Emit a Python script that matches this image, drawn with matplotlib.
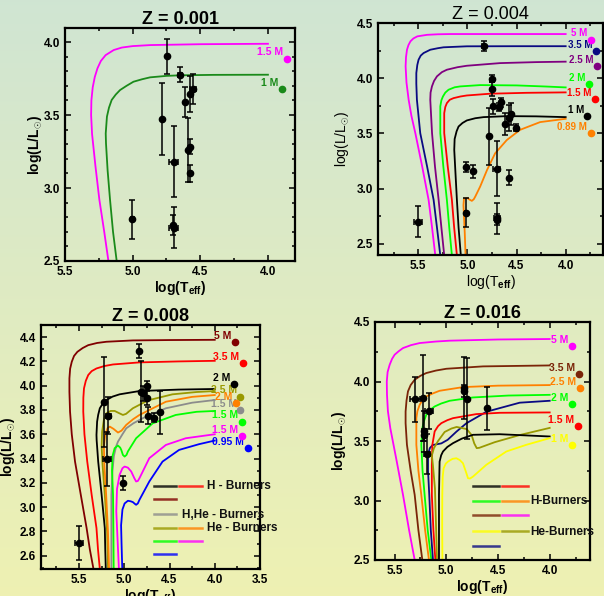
import numpy as np
import matplotlib
matplotlib.use('Agg')
import matplotlib.pyplot as plt
from matplotlib.ticker import MultipleLocator

plt.rcParams['font.family'] = ['Liberation Sans', 'DejaVu Sans']
plt.rcParams['mathtext.fontset'] = 'custom'
plt.rcParams['mathtext.rm'] = 'Liberation Sans:bold'
plt.rcParams['mathtext.bf'] = 'Liberation Sans:bold'
plt.rcParams['mathtext.it'] = 'Liberation Sans:bold:italic'

# ---------------- Z = 0.001 ----------------
z1_m15_t = [5.179, 5.21, 5.246, 5.275, 5.30, 5.307, 5.305, 5.295, 5.28, 5.26, 5.235, 5.20, 5.14, 5.08, 5.0, 4.87, 4.5, 4.0]
z1_m15_l = [2.5, 2.7, 2.92, 3.15, 3.37, 3.50, 3.60, 3.69, 3.76, 3.82, 3.87, 3.91, 3.945, 3.962, 3.972, 3.979, 3.985, 3.988]
z1_m1_t = [5.118, 5.145, 5.167, 5.185, 5.197, 5.199, 5.19, 5.175, 5.155, 5.125, 5.093, 5.045, 4.994, 4.93, 4.871, 4.75, 4.649, 4.4, 4.0]
z1_m1_l = [2.5, 2.7, 2.918, 3.12, 3.306, 3.374, 3.489, 3.55, 3.603, 3.64, 3.671, 3.70, 3.728, 3.745, 3.758, 3.768, 3.772, 3.775, 3.776]
z1_obs_t = [4.743, 4.649, 4.612, 4.575, 4.555, 4.780, 4.698, 4.594, 4.575, 4.575, 5.002, 4.698, 4.700]
z1_obs_l = [3.904, 3.776, 3.589, 3.644, 3.678, 3.473, 3.18, 3.26, 3.283, 3.10, 2.785, 2.728, 2.745]
z1_obs_le = [0.12, 0.05, 0.10, 0.12, 0.10, 0.245, 0.245, 0.22, 0.05, 0.06, 0.135, 0.14, 0.07]
z1_obs_te = [0, 0.015, 0, 0, 0.02, 0, 0.03, 0, 0, 0, 0.01, 0.03, 0]
z1_lab = ['1.5', '1']
z1_lab_t = [3.859, 3.894]
z1_lab_l = [3.886, 3.676]

# ---------------- Z = 0.004 ----------------
z4_m5_t = [5.327, 5.36, 5.395, 5.46, 5.53, 5.57, 5.598, 5.62, 5.629, 5.625, 5.615, 5.60, 5.58, 5.55, 5.51, 5.41, 5.3, 5.175, 4.5, 4.0]
z4_m5_l = [2.397, 2.65, 2.899, 3.20, 3.503, 3.66, 3.805, 3.96, 4.107, 4.19, 4.258, 4.30, 4.334, 4.36, 4.379, 4.393, 4.398, 4.40, 4.40, 4.40]
z4_m35_t = [5.276, 5.31, 5.344, 5.41, 5.48, 5.514, 5.52, 5.52, 5.51, 5.497, 5.475, 5.446, 5.378, 5.30, 5.243, 5.006, 4.5, 4.0]
z4_m35_l = [2.397, 2.65, 2.899, 3.20, 3.503, 3.805, 3.95, 4.047, 4.12, 4.168, 4.205, 4.228, 4.258, 4.272, 4.28, 4.289, 4.29, 4.29]
z4_m25_t = [5.236, 5.265, 5.293, 5.33, 5.36, 5.378, 5.375, 5.361, 5.34, 5.31, 5.26, 5.209, 5.1, 5.006, 4.667, 4.3, 4.0]
z4_m25_l = [2.397, 2.65, 2.899, 3.20, 3.503, 3.805, 3.87, 3.926, 3.975, 4.017, 4.055, 4.077, 4.10, 4.113, 4.137, 4.146, 4.15]
z4_m2_t = [5.158, 5.185, 5.209, 5.245, 5.276, 5.276, 5.265, 5.249, 5.225, 5.192, 5.13, 5.073, 4.87, 4.498, 4.2, 4.0]
z4_m2_l = [2.397, 2.65, 2.899, 3.20, 3.503, 3.745, 3.80, 3.835, 3.87, 3.896, 3.918, 3.926, 3.938, 3.935, 3.925, 3.917]
z4_m15_t = [5.107, 5.135, 5.158, 5.2, 5.236, 5.236, 5.225, 5.209, 5.18, 5.141, 5.07, 5.006, 4.769, 4.4, 4.0]
z4_m15_l = [2.397, 2.65, 2.899, 3.20, 3.503, 3.684, 3.74, 3.775, 3.805, 3.82, 3.835, 3.844, 3.86, 3.868, 3.872]
z4_m1_t = [5.067, 5.09, 5.107, 5.125, 5.134, 5.13, 5.11, 5.09, 5.05, 5.006, 4.92, 4.836, 4.6, 4.3, 4.0]
z4_m1_l = [2.397, 2.65, 2.899, 3.20, 3.352, 3.45, 3.52, 3.563, 3.595, 3.618, 3.638, 3.648, 3.657, 3.655, 3.648]
z4_m089_t = [5.019, 5.027, 5.04, 5.035, 5.0, 4.975, 4.955, 4.935, 4.92, 4.87, 4.80, 4.718, 4.6, 4.464, 4.26, 4.0]
z4_m089_l = [2.397, 2.6, 2.85, 2.91, 2.915, 2.90, 2.89, 2.905, 2.929, 3.02, 3.17, 3.32, 3.44, 3.533, 3.603, 3.633]
z4_obs_t = [4.836, 4.748, 4.748, 4.735, 4.674, 4.657, 4.782, 4.70, 4.616, 4.575, 4.555, 4.504, 4.575, 5.019, 4.945, 5.012, 4.70, 4.70, 5.5]
z4_obs_l = [4.289, 3.995, 3.902, 3.745, 3.739, 3.781, 3.473, 3.18, 3.588, 3.639, 3.675, 3.554, 3.101, 3.20, 3.156, 2.784, 2.733, 2.72, 2.702]
z4_obs_le = [0.045, 0.03, 0.06, 0.07, 0.04, 0.04, 0.26, 0.25, 0.10, 0.12, 0.10, 0.03, 0.07, 0.045, 0.06, 0.135, 0.14, 0.05, 0.14]
z4_obs_te = [0.02, 0, 0, 0, 0.015, 0.015, 0, 0.035, 0, 0, 0, 0.015, 0, 0, 0, 0.01, 0.03, 0, 0.04]
z4_lab = ['5', '3.5', '2.5', '2', '1.5', '1', '0.89']
z4_lab_t = [3.746, 3.692, 3.685, 3.766, 3.699, 3.78, 3.746]
z4_lab_l = [4.349, 4.243, 4.113, 3.947, 3.814, 3.66, 3.503]

# ---------------- Z = 0.008 ----------------
z8_m5_t = [5.34, 5.38, 5.416, 5.48, 5.544, 5.58, 5.599, 5.606, 5.606, 5.598, 5.58, 5.555, 5.518, 5.46, 5.398, 5.30, 5.197, 4.905, 4.5, 4.0]
z8_m5_l = [2.49, 2.65, 2.827, 3.10, 3.375, 3.6, 3.786, 3.95, 4.06, 4.14, 4.197, 4.245, 4.279, 4.31, 4.334, 4.352, 4.362, 4.373, 4.376, 4.378]
z8_m35_t = [5.27, 5.29, 5.307, 5.36, 5.409, 5.44, 5.453, 5.452, 5.445, 5.425, 5.398, 5.36, 5.307, 5.22, 5.124, 4.832, 4.4, 4.0]
z8_m35_l = [2.49, 2.65, 2.827, 3.10, 3.375, 3.6, 3.786, 3.90, 3.978, 4.04, 4.088, 4.12, 4.142, 4.162, 4.175, 4.192, 4.20, 4.205]
z8_m2h_t = [5.204, 5.21, 5.215, 5.25, 5.288, 5.305, 5.307, 5.30, 5.288, 5.27, 5.24, 5.197, 5.13, 5.051, 4.832, 4.4, 4.0]
z8_m2h_l = [2.49, 2.65, 2.827, 3.10, 3.375, 3.55, 3.595, 3.704, 3.76, 3.814, 3.85, 3.882, 3.91, 3.929, 3.956, 3.968, 3.973]
z8_m25_t = [5.179, 5.19, 5.215, 5.24, 5.25, 5.245, 5.225, 5.197, 5.15, 5.106, 5.06, 5.015, 4.98, 4.905, 4.80, 4.723, 4.467, 4.2, 4.0]
z8_m25_l = [2.49, 2.8, 3.1, 3.35, 3.5, 3.62, 3.72, 3.773, 3.792, 3.792, 3.775, 3.759, 3.768, 3.814, 3.855, 3.882, 3.929, 3.948, 3.956]
z8_m2he_t = [5.168, 5.18, 5.20, 5.22, 5.225, 5.21, 5.185, 5.16, 5.12, 5.069, 5.03, 4.978, 4.90, 4.832, 4.54, 4.25, 4.0]
z8_m2he_l = [2.49, 2.8, 3.1, 3.35, 3.5, 3.6, 3.65, 3.663, 3.645, 3.614, 3.63, 3.677, 3.725, 3.759, 3.868, 3.908, 3.923]
z8_m15g_t = [5.142, 5.142, 5.142, 5.13, 5.115, 5.09, 5.069, 5.02, 4.978, 4.90, 4.796, 4.54, 4.25, 4.0]
z8_m15g_l = [2.49, 2.8, 3.101, 3.3, 3.42, 3.50, 3.54, 3.60, 3.649, 3.69, 3.732, 3.814, 3.86, 3.882]
z8_m15a_t = [5.117, 5.12, 5.124, 5.135, 5.13, 5.106, 5.07, 5.045, 5.033, 5.015, 4.996, 4.975, 4.96, 4.869, 4.686, 4.431, 4.2, 4.0]
z8_m15a_l = [2.49, 2.8, 3.101, 3.30, 3.42, 3.485, 3.507, 3.49, 3.471, 3.43, 3.416, 3.43, 3.458, 3.567, 3.69, 3.759, 3.785, 3.792]
z8_m15b_t = [5.059, 5.075, 5.088, 5.08, 5.051, 5.02, 4.996, 4.96, 4.923, 4.89, 4.869, 4.85, 4.832, 4.723, 4.54, 4.321, 4.0]
z8_m15b_l = [2.49, 2.75, 2.964, 3.15, 3.266, 3.32, 3.334, 3.325, 3.293, 3.24, 3.211, 3.215, 3.238, 3.403, 3.512, 3.567, 3.60]
z8_m095_t = [5.022, 5.03, 5.035, 5.02, 4.996, 4.96, 4.93, 4.905, 4.88, 4.869, 4.85, 4.832, 4.723, 4.577, 4.394, 4.175, 4.0]
z8_m095_l = [2.49, 2.7, 2.85, 2.98, 3.03, 3.052, 3.048, 3.041, 3.025, 3.019, 3.03, 3.06, 3.211, 3.375, 3.471, 3.518, 3.548]
z8_obs_t = [4.832, 4.814, 4.796, 4.748, 4.748, 4.734, 4.675, 4.602, 5.226, 5.175, 5.19, 5.015, 5.5]
z8_obs_l = [4.285, 3.951, 3.937, 3.997, 3.901, 3.751, 3.737, 3.781, 3.869, 3.753, 3.395, 3.197, 2.701]
z8_obs_le = [0.055, 0.25, 0.06, 0.04, 0.06, 0.07, 0.04, 0.175, 0.37, 0.15, 0.22, 0.055, 0.14]
z8_obs_te = [0, 0, 0, 0, 0, 0, 0.02, 0, 0, 0.03, 0.04, 0, 0.04]
z8_lab = ['5', '3.5', '2', '2.5', '2', '1.5', '1.5', '1.5', '0.95']
z8_lab_t = [3.774, 3.69, 3.788, 3.719, 3.766, 3.719, 3.701, 3.701, 3.635]
z8_lab_l = [4.356, 4.189, 4.016, 3.91, 3.855, 3.80, 3.704, 3.586, 3.485]

# ---------------- Z = 0.016 ----------------
z16_m5_t = [5.306, 5.36, 5.419, 5.48, 5.542, 5.565, 5.574, 5.576, 5.568, 5.548, 5.525, 5.50, 5.46, 5.419, 5.34, 5.258, 5.1, 4.968, 4.5, 4.0]
z16_m5_l = [2.5, 2.75, 3.047, 3.33, 3.608, 3.75, 3.888, 4.0, 4.08, 4.141, 4.19, 4.225, 4.255, 4.281, 4.306, 4.323, 4.336, 4.343, 4.353, 4.357]
z16_m35_t = [5.232, 5.27, 5.306, 5.345, 5.381, 5.394, 5.394, 5.385, 5.371, 5.345, 5.306, 5.25, 5.194, 5.1, 5.0, 4.645, 4.0]
z16_m35_l = [2.5, 2.75, 3.047, 3.25, 3.468, 3.65, 3.748, 3.84, 3.917, 3.97, 4.015, 4.048, 4.071, 4.092, 4.107, 4.127, 4.135]
z16_m25_t = [5.168, 5.205, 5.242, 5.27, 5.29, 5.29, 5.28, 5.258, 5.23, 5.194, 5.13, 5.065, 4.839, 4.5, 4.0]
z16_m25_l = [2.5, 2.75, 3.047, 3.25, 3.468, 3.692, 3.75, 3.804, 3.845, 3.874, 3.90, 3.922, 3.953, 3.965, 3.97]
z16_m2_t = [5.145, 5.18, 5.21, 5.23, 5.242, 5.232, 5.215, 5.194, 5.16, 5.113, 5.05, 4.968, 4.742, 4.4, 4.0]
z16_m2_l = [2.5, 2.75, 3.047, 3.25, 3.468, 3.608, 3.67, 3.72, 3.76, 3.79, 3.815, 3.838, 3.866, 3.882, 3.888]
z16_nv_t = [5.129, 5.15, 5.165, 5.177, 5.177, 5.16, 5.132, 5.048, 4.987, 4.903, 4.806, 4.612, 4.29, 4.0]
z16_nv_l = [2.5, 2.75, 3.047, 3.25, 3.384, 3.44, 3.466, 3.48, 3.51, 3.578, 3.649, 3.746, 3.822, 3.838]
z16_m15_t = [5.106, 5.125, 5.14, 5.14, 5.135, 5.113, 5.08, 5.048, 4.99, 4.935, 4.71, 4.484, 4.0]
z16_m15_l = [2.5, 2.75, 3.047, 3.3, 3.468, 3.58, 3.625, 3.65, 3.675, 3.692, 3.726, 3.737, 3.74]
z16_ol_t = [5.09, 5.10, 5.11, 5.13, 5.14, 5.12, 5.08, 5.016, 4.95, 4.9, 4.839, 4.803, 4.755, 4.73, 4.706, 4.68, 4.658, 4.532, 4.29, 4.0]
z16_ol_l = [2.5, 2.8, 3.1, 3.3, 3.38, 3.44, 3.50, 3.576, 3.605, 3.618, 3.607, 3.60, 3.55, 3.48, 3.44, 3.443, 3.45, 3.49, 3.55, 3.61]
z16_m1k_t = [5.071, 5.071, 5.071, 5.068, 5.065, 5.05, 5.032, 4.99, 4.935, 4.85, 4.742, 4.484, 4.0]
z16_m1k_l = [2.5, 2.8, 3.047, 3.2, 3.327, 3.38, 3.412, 3.45, 3.482, 3.52, 3.552, 3.557, 3.538]
z16_m1y_t = [5.038, 5.04, 5.039, 5.035, 5.026, 5.005, 4.984, 4.94, 4.903, 4.87, 4.839, 4.81, 4.79, 4.77, 4.742, 4.613, 4.419, 4.226, 4.0]
z16_m1y_l = [2.5, 2.8, 3.047, 3.2, 3.271, 3.31, 3.327, 3.35, 3.355, 3.34, 3.313, 3.24, 3.187, 3.185, 3.201, 3.30, 3.412, 3.468, 3.524]
z16_obs_t = [5.306, 5.226, 5.219, 5.22, 5.168, 5.184, 4.832, 4.80, 4.606, 4.829]
z16_obs_l = [3.852, 3.86, 3.58, 3.55, 3.754, 3.392, 3.945, 3.855, 3.776, 3.922]
z16_obs_le = [0.19, 0.36, 0.17, 0.05, 0.15, 0.17, 0.26, 0.34, 0.18, 0.05]
z16_obs_te = [0.05, 0, 0, 0, 0.04, 0.03, 0, 0, 0, 0]
z16_lab = ['5', '3.5', '2.5', '2', '1.5', '1']
z16_lab_t = [3.781, 3.716, 3.71, 3.781, 3.726, 3.781]
z16_lab_l = [4.295, 4.062, 3.945, 3.813, 3.622, 3.468]

MAG, NAVY, PURP, LIME, RED = '#ff00ff', '#0a0a82', '#800080', '#00ff00', '#ff0000'
ORNG, MAROON, OLIVE, GREY, BLUE = '#ff8000', '#800000', '#999900', '#8c8c8c', '#0000ff'
YEL, BROWN, DGREEN, BLK = '#ffff00', '#7a2408', '#1a8a1a', '#000000'


def style_axes(ax, xlim, ylim, xticks, ystep, yminor, bold_labels=True, ypad=2):
    ax.set_facecolor('none')
    ax.set_xlim(*xlim)
    ax.set_ylim(*ylim)
    ax.set_xticks(xticks)
    ax.xaxis.set_minor_locator(MultipleLocator(0.25))
    ax.yaxis.set_major_locator(MultipleLocator(ystep))
    ax.yaxis.set_minor_locator(MultipleLocator(yminor))
    ax.yaxis.set_major_formatter('{x:.1f}')
    ax.xaxis.set_major_formatter('{x:.1f}')
    ax.tick_params(which='both', direction='in', top=True, right=True, width=1.1)
    ax.tick_params(which='major', length=4.5, labelsize=8.5)
    ax.tick_params(which='minor', length=2.5)
    for lab in ax.get_xticklabels() + ax.get_yticklabels():
        lab.set_fontweight('bold')
    for sp in ax.spines.values():
        sp.set_linewidth(1.6)
    w = 'bold' if bold_labels else 'normal'
    ax.set_xlabel(r'log(T$_{\rm eff}$)', fontsize=10, fontweight=w, labelpad=1)
    ax.set_ylabel(r'log(L/L$_{\odot}$)', fontsize=10, fontweight=w, labelpad=ypad)


def draw_obs(ax, t, l, le, te):
    ax.errorbar(t, l, yerr=le, xerr=te, fmt='o', color='black', ms=4.5,
                elinewidth=1.1, capsize=2.5, capthick=1.1, zorder=5)


def draw_labels(ax, names, dt, dl, colors, size=7.5):
    for n, t, l, c in zip(names, dt, dl, colors):
        ax.plot(t, l, 'o', color=c, ms=4.5, clip_on=False, zorder=6)
        ax.annotate(n + ' M', (t, l), xytext=(-2.5, 4.5), textcoords='offset points',
                    ha='right', va='center', color=c, fontsize=size, fontweight='bold')


def draw_key(ax, rows, cols, texts):
    for y, colors in rows:
        for (x0, x1), c in zip(cols, colors):
            ax.plot([x0, x1], [y, y], color=c, lw=1.8, alpha=0.8, transform=ax.transAxes)
    for x, y, s in texts:
        ax.text(x, y, s, transform=ax.transAxes, fontsize=8.5, va='center', color='#111111',
                fontweight='bold', family=['Liberation Sans Narrow', 'Liberation Sans'])


fig = plt.figure(figsize=(6.04, 5.96), dpi=100)

bg = fig.add_axes([0, 0, 1, 1], zorder=-10)
top = np.array([0.815, 0.898, 0.826])
bot = np.array([0.935, 0.945, 0.70])
frac = np.linspace(0, 1, 256)[:, None, None]
bg.imshow(top + (bot - top) * frac, aspect='auto', extent=[0, 1, 0, 1])
bg.axis('off')

# panel Z = 0.001
ax1 = fig.add_axes([65 / 604, 1 - 261 / 596, 230 / 604, 233 / 596])
ax1.plot(z1_m15_t, z1_m15_l, color=MAG, lw=1.3)
ax1.plot(z1_m1_t, z1_m1_l, color=DGREEN, lw=1.3)
draw_obs(ax1, z1_obs_t, z1_obs_l, z1_obs_le, z1_obs_te)
draw_labels(ax1, z1_lab, z1_lab_t, z1_lab_l, [MAG, DGREEN])
style_axes(ax1, (5.5, 3.8), (2.5, 4.096), [5.5, 5.0, 4.5, 4.0], 0.5, 0.1, ypad=0)
ax1.set_title('Z = 0.001', fontsize=13, fontweight='bold', pad=3)

# panel Z = 0.004
ax2 = fig.add_axes([378 / 604, 1 - 255 / 596, 225 / 604, 232 / 596])
for t, l, c in [(z4_m5_t, z4_m5_l, MAG), (z4_m35_t, z4_m35_l, NAVY), (z4_m25_t, z4_m25_l, PURP),
                (z4_m2_t, z4_m2_l, LIME), (z4_m15_t, z4_m15_l, RED), (z4_m1_t, z4_m1_l, BLK),
                (z4_m089_t, z4_m089_l, ORNG)]:
    ax2.plot(t, l, color=c, lw=1.3)
draw_obs(ax2, z4_obs_t, z4_obs_l, z4_obs_le, z4_obs_te)
draw_labels(ax2, z4_lab, z4_lab_t, z4_lab_l, [MAG, NAVY, PURP, LIME, RED, BLK, ORNG], size=7)
style_axes(ax2, (5.91, 3.62), (2.4, 4.5), [5.5, 5.0, 4.5, 4.0], 0.5, 0.25, bold_labels=False, ypad=4)
ax2.set_title('Z = 0.004', fontsize=13, pad=3)

# panel Z = 0.008
ax3 = fig.add_axes([41 / 604, 1 - 569 / 596, 219 / 604, 244 / 596])
for t, l, c in [(z8_m5_t, z8_m5_l, MAROON), (z8_m35_t, z8_m35_l, RED), (z8_m2h_t, z8_m2h_l, BLK),
                (z8_m25_t, z8_m25_l, OLIVE), (z8_m2he_t, z8_m2he_l, ORNG), (z8_m15g_t, z8_m15g_l, GREY),
                (z8_m15a_t, z8_m15a_l, LIME), (z8_m15b_t, z8_m15b_l, MAG), (z8_m095_t, z8_m095_l, BLUE)]:
    ax3.plot(t, l, color=c, lw=1.3)
draw_obs(ax3, z8_obs_t, z8_obs_l, z8_obs_le, z8_obs_te)
draw_labels(ax3, z8_lab, z8_lab_t, z8_lab_l, [MAROON, RED, BLK, OLIVE, ORNG, GREY, LIME, MAG, BLUE])
style_axes(ax3, (5.92, 3.52), (2.49, 4.5), [5.5, 5.0, 4.5, 4.0, 3.5], 0.2, 0.1)
ax3.set_title('Z = 0.008', fontsize=13, fontweight='bold', pad=3)
draw_key(ax3,
         [(0.340, [BLK, RED]), (0.287, [MAROON]), (0.224, [GREY]),
          (0.169, [OLIVE, ORNG]), (0.115, [LIME, MAG]), (0.060, [BLUE])],
         [(0.514, 0.617), (0.631, 0.734)],
         [(0.757, 0.340, 'H - Burners'), (0.643, 0.222, 'H,He - Burners'),
          (0.757, 0.167, 'He - Burners')])

# panel Z = 0.016
ax4 = fig.add_axes([375 / 604, 1 - 560 / 596, 215 / 604, 238 / 596])
for t, l, c in [(z16_m5_t, z16_m5_l, MAG), (z16_m35_t, z16_m35_l, BROWN), (z16_m25_t, z16_m25_l, ORNG),
                (z16_m2_t, z16_m2_l, LIME), (z16_nv_t, z16_nv_l, NAVY), (z16_m15_t, z16_m15_l, RED),
                (z16_ol_t, z16_ol_l, OLIVE), (z16_m1k_t, z16_m1k_l, BLK), (z16_m1y_t, z16_m1y_l, YEL)]:
    ax4.plot(t, l, color=c, lw=1.3)
draw_obs(ax4, z16_obs_t, z16_obs_l, z16_obs_le, z16_obs_te)
draw_labels(ax4, z16_lab, z16_lab_t, z16_lab_l, [MAG, BROWN, ORNG, LIME, RED, YEL])
style_axes(ax4, (5.69, 3.61), (2.5, 4.5), [5.5, 5.0, 4.5, 4.0], 0.5, 0.25, ypad=4)
ax4.set_title('Z = 0.016', fontsize=13, fontweight='bold', pad=3)
draw_key(ax4,
         [(0.311, [BLK, RED]), (0.250, [LIME, ORNG]), (0.188, [BROWN, MAG]),
          (0.123, [YEL, OLIVE]), (0.060, [NAVY])],
         [(0.457, 0.578), (0.592, 0.710)],
         [(0.724, 0.246, 'H-Burners'), (0.724, 0.119, 'He-Burners')])

fig.savefig('out.png', dpi=100)
